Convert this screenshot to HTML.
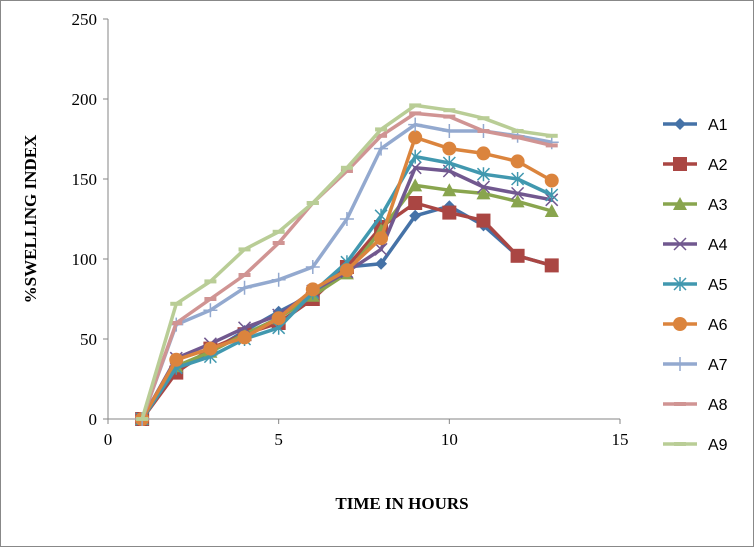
<!DOCTYPE html>
<html><head><meta charset="utf-8"><style>
body{margin:0;background:#fff}
svg{display:block;font-family:"Liberation Serif",serif}
</style></head><body>
<svg id="c" width="754" height="547">
<rect x="0.5" y="0.5" width="753" height="546" fill="#fff" stroke="#888"/>
<g id="axes"></g><g id="series"></g><g id="legend"></g>
<text x="36" y="219" transform="rotate(-90 36 219)" text-anchor="middle" font-size="17" font-weight="bold">%SWELLING INDEX</text>
<text x="402" y="509" text-anchor="middle" font-size="17" font-weight="bold">TIME IN HOURS</text>
</svg>
<script>
const xs=[1,2,3,4,5,6,7,8,9,10,11,12,13];
const names=["A1","A2","A3","A4","A5","A6","A7","A8","A9"];
const A1=[0,30,42,55,67,78,95,97,127,133,121,102,96];
const A2=[0,29,44,53,60,75,95,120,135,129,124,102,96];
const A3=[0,33,42,53,63,77,91,118,146,143,141,136,130];
const A4=[0,38,47,57,65,80,92,106,157,155,145,141,137];
const A5=[0,32,39,50,57,79,98,127,164,160,153,150,140];
const A6=[0,37,44,51,63,81,93,113,176,169,166,161,149];
const A7=[0,59,68,82,87,95,125,169,184,180,180,177,173];
const A8=[0,60,75,90,110,135,155,177,191,189,180,176,171];
const A9=[0,72,86,106,117,135,157,181,196,193,188,180,177];
const xTicks=[0,5,10,15];
const yTicks=[0,50,100,150,200,250];
const data=[A1,A2,A3,A4,A5,A6,A7,A8,A9];
const colors=["#4572A7","#AA4643","#89A54E","#71588F","#4198AF","#DB843D","#93A9CF","#D09493","#B9CD96"];
const markers=["diamond","square","triangle","x","star","circle","plus","dash","dash"];
const NS="http://www.w3.org/2000/svg";
const X=v=>108+v*(512/15), Y=v=>419-v*1.6;
function mk(t,a,p){const e=document.createElementNS(NS,t);for(const k in a)e.setAttribute(k,a[k]);p.appendChild(e);return e;}
const ax=document.getElementById('axes');
let l=mk('line',{x1:108,y1:19,x2:108,y2:419,stroke:'#868686'},ax);


l=mk('line',{x1:108,y1:419,x2:620,y2:419,stroke:'#868686'},ax);


yTicks.forEach(t=>{mk('line',{x1:103,y1:Y(t),x2:108,y2:Y(t),stroke:'#868686'},ax);
 const tx=mk('text',{x:97,y:Y(t)+6,'text-anchor':'end','font-size':17},ax);tx.textContent=t;
 
 });
xTicks.forEach(t=>{mk('line',{x1:X(t),y1:419,x2:X(t),y2:424,stroke:'#868686'},ax);
 const tx=mk('text',{x:X(t),y:445,'text-anchor':'middle','font-size':17},ax);tx.textContent=t;
 
 });
function marker(g,type,x,y,c){
 if(type=="diamond")mk('polygon',{points:`${x},${y-6} ${x+6},${y} ${x},${y+6} ${x-6},${y}`,fill:c},g);
 else if(type=="square")mk('rect',{x:x-7,y:y-7,width:14,height:14,fill:c},g);
 else if(type=="triangle")mk('polygon',{points:`${x},${y-7} ${x+7},${y+6} ${x-7},${y+6}`,fill:c},g);
 else if(type=="circle")mk('circle',{cx:x,cy:y,r:7,fill:c},g);
 else if(type=="x")mk('path',{d:`M${x-6} ${y-6}L${x+6} ${y+6}M${x-6} ${y+6}L${x+6} ${y-6}`,stroke:c,'stroke-width':1.5},g);
 else if(type=="star")mk('path',{d:`M${x-6} ${y-6}L${x+6} ${y+6}M${x-6} ${y+6}L${x+6} ${y-6}M${x} ${y-7}V${y+7}`,stroke:c,'stroke-width':1.5},g);
 else if(type=="plus")mk('path',{d:`M${x-7} ${y}H${x+7}M${x} ${y-7}V${y+7}`,stroke:c,'stroke-width':1.5},g);
 else mk('rect',{x:x-6,y:y-2,width:12,height:4,fill:c},g);
}
const sg=document.getElementById('series'),lg=document.getElementById('legend');
data.forEach((d,i)=>{const g=mk('g',{},sg);
 
 
 mk('polyline',{points:d.map((v,j)=>X(xs[j])+','+Y(v)).join(' '),fill:'none',stroke:colors[i],'stroke-width':3.5,'stroke-linejoin':'round'},g);
 d.forEach((v,j)=>marker(g,markers[i],X(xs[j]),Y(v),colors[i]));
 const le=mk('g',{},lg);
 
 
 const yy=124+i*40;
 mk('line',{x1:663,y1:yy,x2:697,y2:yy,stroke:colors[i],'stroke-width':3.5},le);
 marker(le,markers[i],680,yy,colors[i]);
 const t=mk('text',{x:708,y:yy+6,'font-size':16,'font-family':'Liberation Sans, sans-serif'},le);t.textContent=names[i];
});
</script>
</body></html>
